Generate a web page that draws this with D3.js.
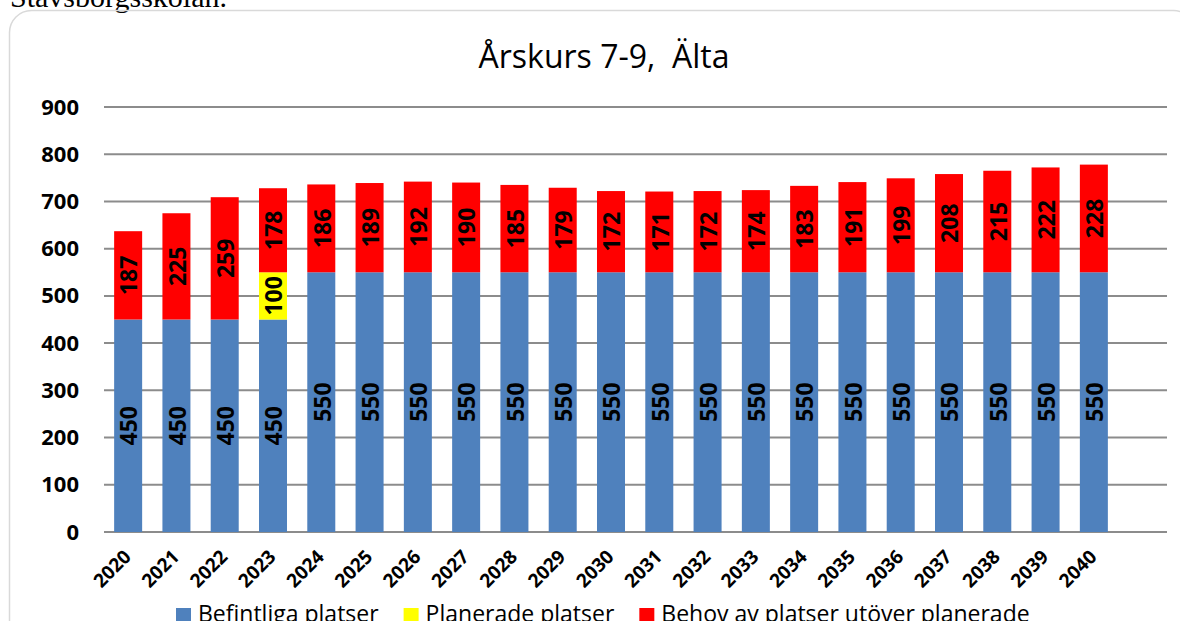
<!DOCTYPE html>
<html>
<head>
<meta charset="utf-8">
<script src="https://cdn.jsdelivr.net/npm/d3@7"></script>
<style>
  body { margin: 0; background: #fff; }
  svg { display: block; }
</style>
</head>
<body>
<svg id="chart"></svg>
<script>
const years = ["2020","2021","2022","2023","2024","2025","2026","2027","2028","2029","2030",
               "2031","2032","2033","2034","2035","2036","2037","2038","2039","2040"];
const befintliga = [450,450,450,450,550,550,550,550,550,550,550,550,550,550,550,550,550,550,550,550,550];
const planerade  = [0,0,0,100,0,0,0,0,0,0,0,0,0,0,0,0,0,0,0,0,0];
const behov      = [187,225,259,178,186,189,192,190,185,179,172,171,172,174,183,191,199,208,215,222,228];
const seriesNames = ["Befintliga platser", "Planerade platser", "Behov av platser utöver planerade"];
const seriesColors = ["#4f81bd", "#ffff00", "#ff0000"];
const yTicks = [0,100,200,300,400,500,600,700,800,900];
const title = "Årskurs 7-9,  Älta";

class StackedChart {
    width = 1180
    height = 621
    plot = { left: 104, right: 1118, gridRight: 1167, top: 107, bottom: 532 }

    constructor(svg){
        this.svg = d3.select(svg);
    }

    initialize(){
        this.svg.attr("width", this.width).attr("height", this.height);

        // text of the page above the chart, mostly cut away
        this.svg.append("text")
            .attr("x", 10).attr("y", 7)
            .style("font-family", "Liberation Serif")
            .style("font-size", "30px")
            .text("Stavsborgsskolan.");

        this.svg.append("rect")
            .attr("x", 9.5).attr("y", 10.5)
            .attr("width", 1186).attr("height", 700)
            .attr("rx", 22)
            .attr("fill", "none")
            .attr("stroke", "#d9d9d9")
            .attr("stroke-width", 1.5);

        this.xScale = d3.scaleBand().domain(years)
            .range([this.plot.left, this.plot.right])
            .paddingInner(0.42).paddingOuter(0.21);
        this.yScale = d3.scaleLinear().domain([0, 900])
            .range([this.plot.bottom, this.plot.top]);
    }

    draw(){
        const rows = years.map((y, i) => ({
            year: y, befintliga: befintliga[i], planerade: planerade[i], behov: behov[i]
        }));
        const keys = ["befintliga", "planerade", "behov"];
        const stacked = d3.stack().keys(keys)(rows);

        this.svg.append("text")
            .attr("x", 604).attr("y", 68)
            .attr("text-anchor", "middle")
            .style("font-family", "Open Sans")
            .style("font-size", "32px")
            .style("white-space", "pre")
            .text(title);

        // gridlines and y labels
        const grid = this.svg.append("g");
        grid.selectAll("line")
            .data(yTicks)
            .join("line")
            .attr("x1", this.plot.left)
            .attr("x2", this.plot.gridRight)
            .attr("y1", d => this.yScale(d))
            .attr("y2", d => this.yScale(d))
            .attr("stroke", "#8c8c8c")
            .attr("stroke-width", 2);

        const yAxis = this.svg.append("g")
            .attr("transform", `translate(${this.plot.left}, 0)`)
            .call(d3.axisLeft(this.yScale).tickValues(yTicks).tickSize(0).tickPadding(25));
        yAxis.select(".domain").remove();
        yAxis.selectAll("text")
            .style("font-family", "Open Sans")
            .style("font-size", "22px")
            .style("font-weight", "bold")
            .attr("fill", "#000");

        // bars
        const layers = this.svg.append("g").selectAll("g")
            .data(stacked)
            .join("g")
            .attr("fill", (d, i) => seriesColors[i]);
        layers.selectAll("rect")
            .data(d => d)
            .join("rect")
            .attr("x", d => this.xScale(d.data.year))
            .attr("width", this.xScale.bandwidth())
            .attr("y", d => this.yScale(d[1]))
            .attr("height", d => this.yScale(d[0]) - this.yScale(d[1]));

        // value labels inside the segments
        const labels = [];
        stacked.forEach(layer => layer.forEach(d => {
            const v = d[1] - d[0];
            if(v > 0) labels.push({ year: d.data.year, v: v, mid: (d[0] + d[1]) / 2 });
        }));
        this.svg.append("g").selectAll("text")
            .data(labels)
            .join("text")
            .attr("transform", d => `translate(${this.xScale(d.year) + this.xScale.bandwidth() / 2 + 1}, ${this.yScale(d.mid)}) rotate(-90)`)
            .attr("text-anchor", "middle")
            .attr("dy", "0.36em")
            .style("font-family", "Open Sans")
            .style("font-size", "23px")
            .style("font-weight", "bold")
            .text(d => d.v);

        // x labels
        this.svg.append("g").selectAll("text")
            .data(years)
            .join("text")
            .attr("transform", d => `translate(${this.xScale(d) + this.xScale.bandwidth() / 2 + 4}, 558) rotate(-45)`)
            .attr("text-anchor", "end")
            .style("font-family", "Open Sans")
            .style("font-size", "19px")
            .style("font-weight", "bold")
            .text(d => d);

        // legend, laid out from left to right
        const legend = this.svg.append("g");
        let x = 176;
        seriesNames.forEach((name, i) => {
            legend.append("rect")
                .attr("x", x).attr("y", 608)
                .attr("width", 15).attr("height", 15)
                .attr("fill", seriesColors[i]);
            const t = legend.append("text")
                .attr("x", x + 22).attr("y", 622)
                .style("font-family", "Open Sans")
                .style("font-size", "23px")
                .text(name);
            x += 22 + t.node().getComputedTextLength() + 25;
        });
    }
}

const chart = new StackedChart("#chart");
chart.initialize();
chart.draw();
</script>
</body>
</html>
